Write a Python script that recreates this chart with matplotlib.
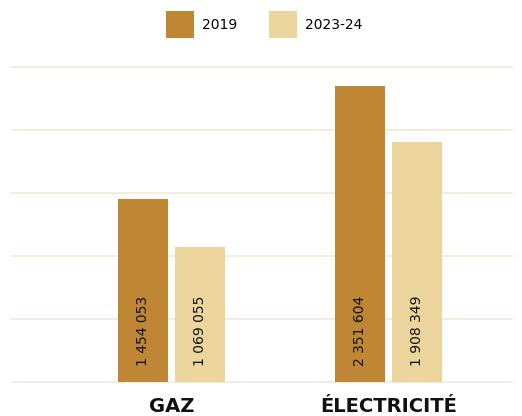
import matplotlib.pyplot as plt
import numpy as np

categories = ['GAZ', 'ÉLECTRICITÉ']
series = ['2019', '2023-24']
v2019 = [1454053, 2351604]
v2023 = [1069055, 1908349]
colors = ['#BF8633', '#EBD59C']

plt.rcParams['font.family'] = ['DejaVu Sans']

fig = plt.figure(figsize=(5.22, 4.16), dpi=100)
ax = fig.add_axes([12 / 522, 34 / 416, 500 / 522, 315 / 416])

x = np.arange(len(categories))
w = 0.23
off = 0.131
for vals, dx, c, lab in [(v2019, -off, colors[0], series[0]), (v2023, off, colors[1], series[1])]:
    ax.bar(x + dx, vals, width=w, color=c, label=lab, zorder=2)
    for xi, v in zip(x + dx, vals):
        txt = f'{v:,}'.replace(',', ' ')
        ax.text(xi, 125000, txt, rotation=90, ha='center', va='bottom', fontsize=10, color='#111111', zorder=3)

ax.set_xlim(-0.735, 1.569)
ax.set_ylim(0, 2500000)
ax.set_yticks(np.arange(0, 2500001, 500000))
ax.yaxis.grid(True, color='#F5EADB', linewidth=1.3, zorder=0)
for gl in ax.get_ygridlines():
    gl.set_clip_on(False)
ax.set_yticklabels([])
ax.tick_params(left=False, bottom=False, length=0)
for s in ax.spines.values():
    s.set_visible(False)
ax.set_xticks(x)
ax.set_xticklabels(categories, fontsize=14, fontweight='bold', color='#111111')
ax.tick_params(axis='x', pad=11)

fig.legend(loc='upper center', bbox_to_anchor=(0.506, 1.003), ncol=2, frameon=False,
           fontsize=10, handlelength=2.0, handleheight=2.6, columnspacing=2.3, handletextpad=0.6)

fig.savefig('out.png', dpi=100)
